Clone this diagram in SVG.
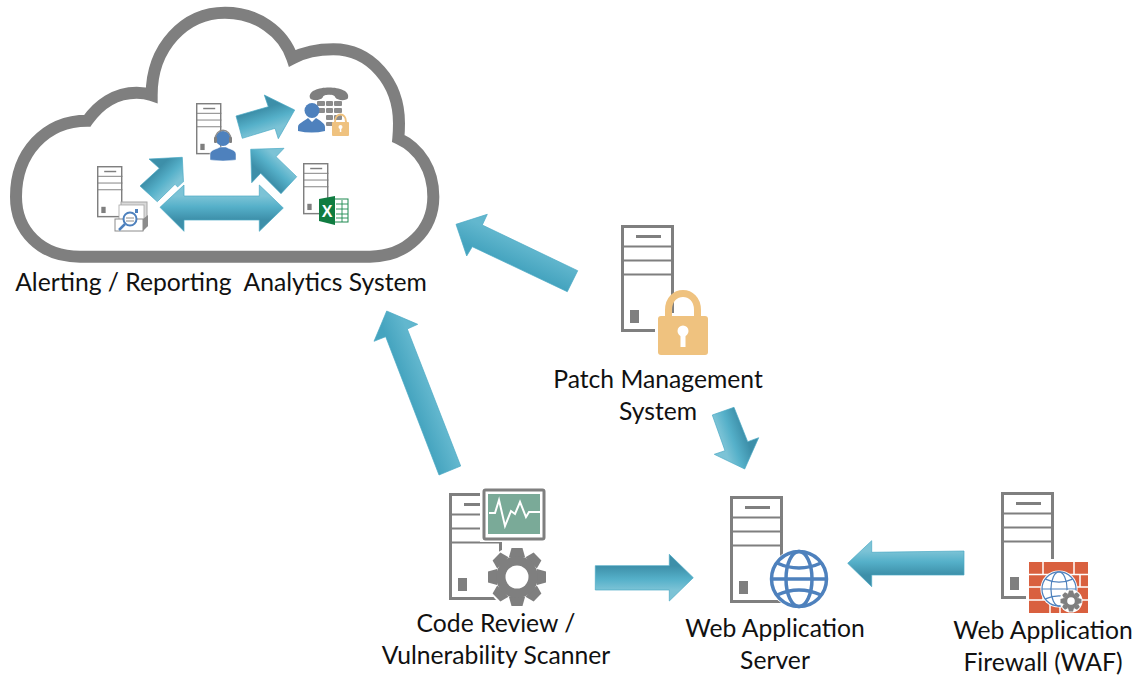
<svg xmlns="http://www.w3.org/2000/svg" width="1139" height="679" viewBox="0 0 1139 679">
<style>
text{font-family:"Lato","Carlito","Open Sans",sans-serif;font-size:24.7px;fill:#111;text-anchor:middle}
.sv{fill:#fff;stroke:#7f7f7f;stroke-width:3;}
.arrow{stroke:#4aa9c4;stroke-width:.7}
.lk{fill:#efc27f}
.gr{fill:#7f7f7f}
.gl{fill:none;stroke:#4e81bd}
</style>
<defs>
<linearGradient id="dl"><stop offset="0" stop-color="#3d8fa9"/><stop offset=".55" stop-color="#55b0c9"/><stop offset="1" stop-color="#7cc3d6"/></linearGradient>
<linearGradient id="flat"><stop offset="0" stop-color="#45a4bf"/><stop offset="1" stop-color="#62b7ce"/></linearGradient>
<linearGradient id="a1" href="#dl" gradientUnits="userSpaceOnUse" x1="268" y1="107" x2="275" y2="128"/>
<linearGradient id="a2" href="#dl" gradientUnits="userSpaceOnUse" x1="159" y1="168" x2="175" y2="184"/>
<linearGradient id="a3" href="#dl" gradientUnits="userSpaceOnUse" x1="261" y1="173" x2="276" y2="157"/>
<linearGradient id="a4" href="#dl" gradientUnits="userSpaceOnUse" x1="0" y1="220" x2="0" y2="196"/>
<linearGradient id="a5" href="#flat" gradientUnits="userSpaceOnUse" x1="472" y1="247" x2="482" y2="225"/>
<linearGradient id="a6" href="#flat" gradientUnits="userSpaceOnUse" x1="386" y1="337" x2="407" y2="329"/>
<linearGradient id="a7" href="#dl" gradientUnits="userSpaceOnUse" x1="748" y1="442" x2="725" y2="450"/>
<linearGradient id="a8" href="#dl" gradientUnits="userSpaceOnUse" x1="0" y1="566" x2="0" y2="590"/>
<linearGradient id="a9" href="#dl" gradientUnits="userSpaceOnUse" x1="0" y1="575" x2="0" y2="551"/>
<g id="server">
<rect class="sv" x="1.500" y="1.500" width="50" height="104"/>
<path d="M0 21.500H53M0 35.500H53M0 49.500H53" fill="none" stroke="#7f7f7f" stroke-width="2"/>
<rect class="gr" x="15" y="10" width="25" height="3"/>
<rect class="gr" x="9" y="85" width="9" height="13"/>
</g>
<g id="globe">
<circle r="30" fill="#fff" stroke="none"/>
<circle r="27.500"/>
<ellipse rx="13" ry="27.500"/>
<path d="M-27.500 0H27.500M-22 -16Q0 -6 22 -16M-22 16Q0 6 22 16"/>
</g>
<polygon id="tooth" points="-8,-20 -5.500,-29 5.500,-29 8,-20"/>
<polygon id="tooth-s" points="-3,-7 -2,-10.500 2,-10.500 3,-7"/>
</defs>

<g id="cloud">
<path transform="scale(.33333)" d="M240 770C120 770 48 690 48 590C48 460 135 362 262 362C295 315 345 278 410 278Q435 278 455 285C455 140 555 38 675 38C770 38 850 95 877 175C915 155 955 148 1000 148C1110 148 1197 245 1197 370Q1197 395 1195 415C1260 445 1300 510 1300 590C1300 690 1220 770 1110 770Z" fill="#fff" stroke="#7f7f7f" stroke-width="36" stroke-linejoin="miter"/>
</g>

<g id="connectors">
<polygon class="arrow" fill="url(#a1)" points="236,116 268.300,106.700 264.300,95 294.700,110 278.300,138.700 275,128.300 242.300,138.300"/>
<polygon class="arrow" fill="url(#a2)" points="182.300,157.300 149,159 159.300,168.300 140,186 157.300,201.700 175,184.300 184,193.300"/>
<polygon class="arrow" fill="url(#a3)" points="250.700,149.300 284,148.300 276,156.700 296.700,176.700 281,193.700 260.700,173.300 251.700,182.700"/>
<polygon fill="#fff" stroke="#fff" stroke-width="5" points="160,207.300 184,185 184,196 259.300,196 259.300,185 283.300,208 259.300,231.300 259.300,220 184,220 184,231.300"/>
<polygon class="arrow" fill="url(#a4)" points="160,207.300 184,185 184,196 259.300,196 259.300,185 283.300,208 259.300,231.300 259.300,220 184,220 184,231.300"/>
<polygon class="arrow" fill="url(#a5)" points="456,224.300 487.300,214.300 482.300,225 577.700,270.700 567.300,291.700 472.300,246.700 466.700,256"/>
<polygon class="arrow" fill="url(#a6)" points="386.700,311 417.700,324.300 407.300,329 460.700,466 439,475 385.700,336.700 374,341.300"/>
<polygon class="arrow" fill="url(#a7)" points="712.300,415 734,407.300 747.700,441.700 758.700,437.700 744.700,469 714.300,454.300 725,450.700"/>
<polygon class="arrow" fill="url(#a8)" points="595.300,565.700 669.300,565.700 669.300,554.300 693.300,577.700 669.300,601 669.300,590 595.300,590"/>
<polygon class="arrow" fill="url(#a9)" points="847.700,563.300 871.700,540.700 871.700,552.300 964,551 964,575 871.700,575 871.700,586.700"/>
</g>

<g id="analytics-server">
<use href="#server" transform="translate(97,166) scale(.48)"/>
<rect x="121" y="202" width="26" height="24" fill="#d9d9d9" stroke="#a6a6a6"/>
<rect x="119" y="205" width="25" height="22" fill="#fff" stroke="#a6a6a6" stroke-width=".8"/>
<rect x="115" y="219" width="28" height="12" fill="#fff" stroke="#8c8c8c"/>
<path d="M143 219l5 -4V226l-5 5z" fill="#8c8c8c"/>
<rect x="135" y="209" width="3" height="4" fill="#4e81bd"/>
<circle cx="130" cy="219" r="6.500" fill="#fff" stroke="#4e81bd" stroke-width="2"/>
<path d="M125 224L119 230" stroke="#4e81bd" stroke-width="2.500"/>
<path d="M126 218h8M126 221h8" stroke="#8c8c8c"/>
</g>

<g id="agent-server">
<use href="#server" transform="translate(196,103) scale(.48)"/>
<path d="M210 160V154C210 150 217 149 220 147H226C229 149 236 150 236 154V160Q223 162 210 160Z" fill="#4e81bd" stroke="#fff" stroke-width=".5"/>
<circle cx="223" cy="138.500" r="7.500" fill="#4e81bd"/>
<path d="M215 140C215 127 231 127 231 140" fill="none" stroke="#8c8c8c" stroke-width="1.300"/>
<rect x="214" y="137" width="3" height="6" rx="1" fill="#7f7f7f"/>
<rect x="229" y="137" width="3" height="6" rx="1" fill="#7f7f7f"/>
</g>

<g id="report-server">
<use href="#server" transform="translate(303,163) scale(.48)"/>
<rect x="330" y="199" width="18" height="23" fill="#fff" stroke="#1e8a50"/>
<path d="M336 204H348M336 209H348M336 214H348M336 218H348M342 200V222" stroke="#1e8a50" stroke-width=".9"/>
<path d="M319 199L335 196V225L319 221Z" fill="#107c41"/>
<text x="327" y="217" style="font-size:16px;fill:#fff;font-weight:700;font-family:'Liberation Sans',sans-serif">X</text>
</g>

<g id="phone-icon">
<path d="M310 98C306 84 352 84 348 98C347 101 337 101 335 97C335 94 323 94 323 97C321 101 311 101 310 98Z" fill="#7f7f7f"/>
<g fill="#8c8c8c">
<rect x="317" y="101" width="8" height="5" rx="1"/><rect x="326" y="101" width="7" height="5" rx="1"/><rect x="334" y="101" width="8" height="5" rx="1"/>
<rect x="317" y="108" width="8" height="5" rx="1"/><rect x="326" y="108" width="7" height="5" rx="1"/><rect x="334" y="108" width="8" height="5" rx="1"/>
<rect x="326" y="115" width="7" height="5" rx="1"/><rect x="334" y="115" width="8" height="5" rx="1"/>
<rect x="326" y="122" width="7" height="4" rx="1"/>
</g>
<circle cx="312" cy="110.500" r="7.500" fill="#4e81bd"/>
<path d="M298 131V127C298 123 305 121 308 118L312 122L316 118C320 121 325 123 325 127V131Q312 134 298 131Z" fill="#4e81bd"/>
<path d="M335 122C335 112 346 112 346 122" fill="none" stroke="#efc27f" stroke-width="2"/>
<rect class="lk" x="332" y="122" width="17" height="14" rx="1"/>
<circle cx="340.500" cy="127" r="2" fill="#fff"/><rect x="339.800" y="127" width="1.500" height="5" fill="#fff"/>
</g>

<text id="cloud-label" x="221" y="291" xml:space="preserve">Alerting / Reporting  Analytics System</text>

<g id="patch-management">
<use href="#server" transform="translate(621,225)"/>
<rect x="655" y="313" width="56" height="44" fill="#fff"/>
<path d="M668.500 317V310C668.500 288 697.500 288 697.500 310V317" fill="none" stroke="#efc27f" stroke-width="7"/>
<rect class="lk" x="658" y="316" width="50" height="39" rx="3"/>
<circle cx="683" cy="331" r="5.500" fill="#fff"/>
<rect x="680.500" y="332" width="5" height="15" fill="#fff"/>
<text x="658" y="388">Patch Management</text>
<text x="658" y="420">System</text>
</g>

<g id="code-review">
<use href="#server" transform="translate(449,493)"/>
<rect x="480" y="487" width="67" height="55" fill="#fff"/>
<rect x="484" y="490" width="60" height="49" rx="1.500" fill="#fff" stroke="#7f7f7f" stroke-width="3"/>
<rect x="488" y="494" width="52" height="40" fill="#7aaa98"/>
<path d="M489 513H495L499 500L505 526L511 511L515 514L520 502L526 517L529 512H540" fill="none" stroke="#fff" stroke-width="2"/>
<g transform="translate(517,577)">
<circle r="31" fill="#fff"/>
<g class="gr">
<use href="#tooth"/>
<use href="#tooth" transform="rotate(45)"/>
<use href="#tooth" transform="rotate(90)"/>
<use href="#tooth" transform="rotate(135)"/>
<use href="#tooth" transform="rotate(180)"/>
<use href="#tooth" transform="rotate(225)"/>
<use href="#tooth" transform="rotate(270)"/>
<use href="#tooth" transform="rotate(315)"/>
<circle r="21"/>
</g>
<circle r="11.500" fill="#fff"/>
</g>
<text x="496" y="632">Code Review /</text>
<text x="496" y="664">Vulnerability Scanner</text>
</g>

<g id="web-server">
<use href="#server" transform="translate(730,496)"/>
<use href="#globe" class="gl" stroke-width="3.500" transform="translate(799,579)"/>
<text x="775" y="637">Web Application</text>
<text x="775" y="669">Server</text>
</g>

<g id="waf">
<use href="#server" transform="translate(1001,492)"/>
<rect x="1026" y="559" width="65" height="57" fill="#fff"/>
<rect x="1029" y="562" width="59" height="51" fill="#d9603f"/>
<path d="M1029 574.500H1088M1029 587H1088M1029 600H1088M1043 562V574M1074 562V574M1048 574V587M1080 574V587M1043 587V600M1075 587V600M1050 600V613M1060 600V613" stroke="#fff" stroke-width="1.500" fill="none"/>
<use href="#globe" class="gl" stroke-width="2" transform="translate(1059,589) scale(.62)"/>
<g transform="translate(1071,601)">
<circle r="11.500" fill="#fff"/>
<g class="gr">
<use href="#tooth-s"/>
<use href="#tooth-s" transform="rotate(45)"/>
<use href="#tooth-s" transform="rotate(90)"/>
<use href="#tooth-s" transform="rotate(135)"/>
<use href="#tooth-s" transform="rotate(180)"/>
<use href="#tooth-s" transform="rotate(225)"/>
<use href="#tooth-s" transform="rotate(270)"/>
<use href="#tooth-s" transform="rotate(315)"/>
<circle r="7.500"/>
</g>
<circle r="3.800" fill="#fff"/>
</g>
<text x="1043" y="639">Web Application</text>
<text x="1043" y="671">Firewall (WAF)</text>
</g>
</svg>
